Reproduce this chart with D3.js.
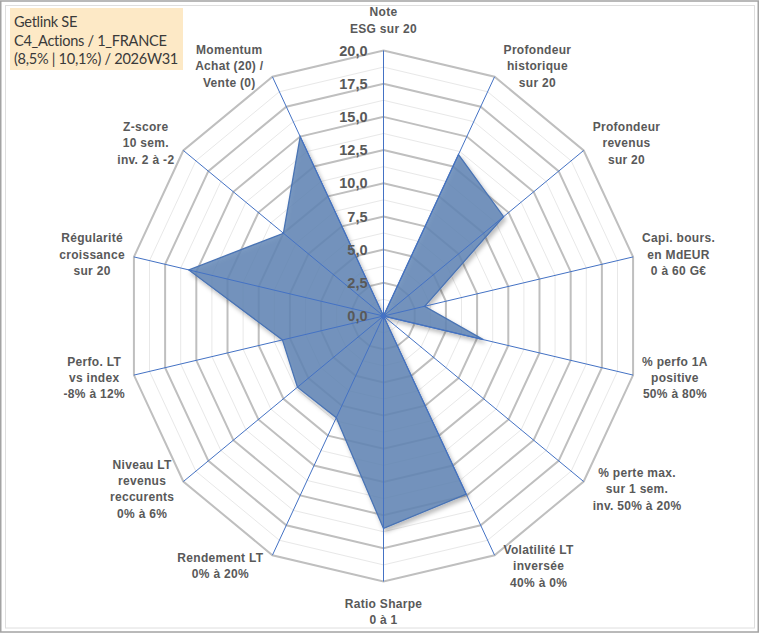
<!DOCTYPE html>
<html>
<head>
<meta charset="utf-8">
<script src="https://cdn.jsdelivr.net/npm/d3@7"></script>
<style>
  html, body { margin: 0; padding: 0; background: #ffffff; }
  svg { display: block; }
</style>
</head>
<body>
<div id="chart"></div>
<script>
// ---------- DATA ----------
const titleLines = ["Getlink SE", "C4_Actions / 1_FRANCE", "(8,5% | 10,1%) / 2026W31"];

const categories = [
  ["Note", "ESG sur 20"],
  ["Profondeur", "historique", "sur 20"],
  ["Profondeur", "revenus", "sur 20"],
  ["Capi. bours.", "en MdEUR", "0 à 60 G€"],
  ["% perfo 1A", "positive", "50% à 80%"],
  ["% perte max.", "sur 1 sem.", "inv. 50% à 20%"],
  ["Volatilité LT", "inversée", "40% à 0%"],
  ["Ratio Sharpe", "0 à 1"],
  ["Rendement LT", "0% à 20%"],
  ["Niveau LT", "revenus", "reccurents", "0% à 6%"],
  ["Perfo. LT", "vs index", "-8% à 12%"],
  ["Régularité", "croissance", "sur 20"],
  ["Z-score", "10 sem.", "inv. 2 à -2"],
  ["Momentum", "Achat (20) /", "Vente (0)"]
];

const values = [0, 13.5, 12.0, 3.3, 8.0, 0, 14.9, 16.0, 8.5, 8.6, 8.1, 15.6, 10.0, 15.0];

const majorTicks = [0, 2.5, 5, 7.5, 10, 12.5, 15, 17.5, 20];
const minorTicks = [1.25, 3.75, 6.25, 8.75, 11.25, 13.75, 16.25, 18.75];
const tickLabels = ["0,0", "2,5", "5,0", "7,5", "10,0", "12,5", "15,0", "17,5", "20,0"];

// ---------- LAYOUT ----------
const W = 760, H = 633;
const cx = 383.5, cy = 316;
const n = categories.length;

const svg = d3.select("#chart").append("svg")
  .attr("width", W).attr("height", H);

// drop shadow filter
const defs = svg.append("defs");
const f = defs.append("filter").attr("id", "shadow")
  .attr("x", "-20%").attr("y", "-20%").attr("width", "140%").attr("height", "140%");
f.append("feDropShadow").attr("dx", 2).attr("dy", 3).attr("stdDeviation", 2.2)
  .attr("flood-color", "#000").attr("flood-opacity", 0.3);

// frame
svg.append("rect").attr("x", 0.75).attr("y", 1).attr("width", 757.5).attr("height", 631)
  .attr("fill", "#fff").attr("stroke", "#a3a3a3").attr("stroke-width", 1.5);
svg.append("rect").attr("x", 5.5).attr("y", 5.5).attr("width", 749).attr("height", 622.5)
  .attr("fill", "none").attr("stroke", "#dedede").attr("stroke-width", 1);

// scales
const angle = d3.scaleLinear().domain([0, n]).range([0, 2 * Math.PI]);
const rx = d3.scaleLinear().domain([0, 20]).range([0, 256]);
const ry = d3.scaleLinear().domain([0, 20]).range([0, 265.5]);

const px = (i, v) => cx + rx(v) * Math.sin(angle(i));
const py = (i, v) => cy - ry(v) * Math.cos(angle(i));

const ringLine = d3.line().curve(d3.curveLinearClosed);
const ringPts = v => d3.range(n).map(i => [px(i, v), py(i, v)]);

// minor grid
svg.append("g").selectAll("path").data(minorTicks).join("path")
  .attr("d", v => ringLine(ringPts(v)))
  .attr("fill", "none").attr("stroke", "#e8e8e8").attr("stroke-width", 1);

// major grid
svg.append("g").selectAll("path").data(majorTicks.filter(v => v > 0)).join("path")
  .attr("d", v => ringLine(ringPts(v)))
  .attr("fill", "none").attr("stroke", "#bfbfbf").attr("stroke-width", 2)
  .attr("stroke-linejoin", "miter");

// series polygon
const area = d3.line()
  .x((d, i) => px(i, d))
  .y((d, i) => py(i, d))
  .curve(d3.curveLinearClosed);

svg.append("path")
  .attr("d", area(values))
  .attr("fill", "rgb(98,134,182)")
  .attr("fill-opacity", 0.84)
  .attr("stroke", "#4a74b4")
  .attr("stroke-width", 1.3)
  .attr("stroke-linejoin", "miter")
  .attr("filter", "url(#shadow)");

// axis spokes
svg.append("g").selectAll("line").data(d3.range(n)).join("line")
  .attr("x1", cx).attr("y1", cy)
  .attr("x2", i => px(i, 20)).attr("y2", i => py(i, 20))
  .attr("stroke", "#4472c4").attr("stroke-width", 1);

svg.append("circle").attr("cx", cx).attr("cy", cy).attr("r", 2.8).attr("fill", "#4472c4");

// tick labels
svg.append("g").selectAll("text").data(majorTicks).join("text")
  .attr("x", cx - 16)
  .attr("y", v => cy - ry(v))
  .attr("dy", "0.36em")
  .attr("text-anchor", "end")
  .attr("font-family", "'Liberation Sans', Arial, sans-serif")
  .attr("font-weight", "bold")
  .attr("font-size", 14.5)
  .attr("fill", "#595959")
  .text((v, i) => tickLabels[i]);

// category labels
const lineH = 16.3;
const labelG = svg.append("g")
  .attr("font-family", "'Liberation Sans', Arial, sans-serif")
  .attr("font-weight", "bold")
  .attr("font-size", 12)
  .attr("letter-spacing", 0.3)
  .attr("fill", "#595959");

categories.forEach((lines, i) => {
  const a = angle(i);
  const s = Math.sin(a), c = Math.cos(a);
  const ex = px(i, 20), ey = py(i, 20);
  const t = labelG.append("text").attr("text-anchor", "middle");
  const spans = lines.map((ln, k) => t.append("tspan").attr("x", 0).attr("y", k * lineH).text(ln));
  const wmax = d3.max(spans, sp => sp.node().getComputedTextLength());
  const hh = lines.length * lineH / 2;
  let lx, lyc;
  if (Math.abs(s) < 0.05) {
    lx = ex;
    lyc = c > 0 ? ey - hh - 14 : ey + hh + 14;
  } else {
    lx = ex + Math.sign(s) * (wmax / 2 + 9);
    lyc = ey - c * 12;
  }
  const y0 = lyc - (lines.length - 1) * lineH / 2 + 4.3;
  t.attr("transform", `translate(${lx},${y0})`);
});

// title box
const tb = svg.append("g");
tb.append("rect").attr("x", 10).attr("y", 8).attr("width", 173).attr("height", 62)
  .attr("fill", "#fde9c6");
tb.selectAll("text").data(titleLines).join("text")
  .attr("x", 14)
  .attr("y", (d, i) => 27 + i * 18.5)
  .attr("font-family", "Lato, 'Open Sans', sans-serif")
  .attr("font-size", 14.6)
  .attr("letter-spacing", -0.3)
  .attr("fill", "#3a3a3a")
  .text(d => d);
</script>
</body>
</html>
